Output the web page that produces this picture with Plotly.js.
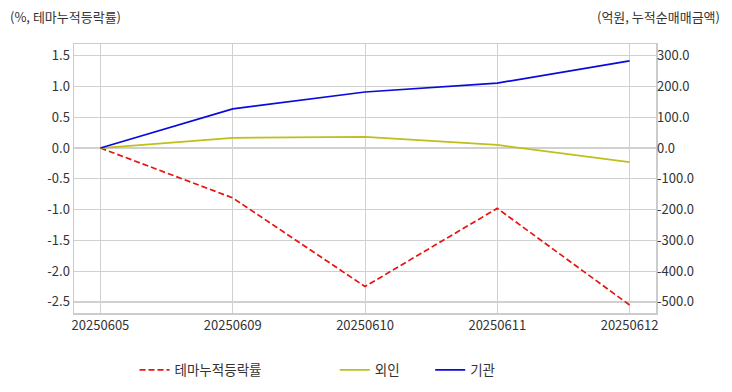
<!DOCTYPE html>
<html>
<head>
<meta charset="utf-8">
<script src="https://cdn.plot.ly/plotly-3.0.1.min.js"></script>
<style>body{margin:0;padding:0;background:#fff;} #chart{width:732px;height:392px;}</style>
</head>
<body>
<div id="chart"></div>
<script>
const dates = ["20250605", "20250609", "20250610", "20250611", "20250612"];
const themeReturn = [0.0, -0.81, -2.25, -0.98, -2.55];
const foreign = [0.0, 33, 36, 10, -46];
const institution = [0.0, 127, 182, 211, 283];

const leftTickVals = [1.5, 1.0, 0.5, 0.0, -0.5, -1.0, -1.5, -2.0, -2.5];
const leftTickText = ["1.5", "1.0", "0.5", "0.0", "-0.5", "-1.0", "-1.5", "-2.0", "-2.5"];
const rightTickVals = [300, 200, 100, 0, -100, -200, -300, -400, -500];
const rightTickText = ["300.0", "200.0", "100.0", "0.0", "-100.0", "-200.0", "-300.0", "-400.0", "-500.0"];

const font = "'Noto Sans CJK KR', 'Noto Sans', sans-serif";
const legendBase = {orientation: "h", y: -0.212, yanchor: "middle", xanchor: "left",
                    font: {size: 13.5, color: "#333"}, bgcolor: "rgba(0,0,0,0)"};

const traces = [
  {x: dates, y: themeReturn, name: "테마누적등락률", type: "scatter", mode: "lines",
   line: {color: "#e8140f", width: 1.7, dash: "6px,3px"}, yaxis: "y", legend: "legend"},
  {x: dates, y: foreign, name: "외인", type: "scatter", mode: "lines",
   line: {color: "#bfbf1a", width: 1.7}, yaxis: "y2", legend: "legend2"},
  {x: dates, y: institution, name: "기관", type: "scatter", mode: "lines",
   line: {color: "#0a0adc", width: 1.7}, yaxis: "y2", legend: "legend3"}
];

const layout = {
  width: 732, height: 392,
  margin: {l: 74, r: 76, t: 44, b: 79, autoexpand: false},
  paper_bgcolor: "#fff", plot_bgcolor: "#fff",
  font: {family: font, size: 13, color: "#333"},
  showlegend: true,
  legend: Object.assign({}, legendBase, {x: 0.104}),
  legend2: Object.assign({}, legendBase, {x: 0.448}),
  legend3: Object.assign({}, legendBase, {x: 0.612}),
  xaxis: {type: "category", range: [-0.2, 4.2], showgrid: true, gridcolor: "#d0d0d0", gridwidth: 1,
          showline: true, linecolor: "#cccccc", linewidth: 1.5, mirror: true,
          ticks: "", tickfont: {size: 13, color: "#333"}, zeroline: false},
  yaxis: {range: [-2.68, 1.69], tickvals: leftTickVals, ticktext: leftTickText,
          showgrid: true, gridcolor: "#d0d0d0", gridwidth: 1.2, zeroline: false,
          showline: true, linecolor: "#cccccc", linewidth: 1.5, mirror: true,
          ticks: "", tickfont: {size: 13, color: "#333"}},
  yaxis2: {range: [-536, 338], tickvals: rightTickVals, ticktext: rightTickText,
           overlaying: "y", side: "right", showgrid: true, gridcolor: "#d0d0d0", gridwidth: 1.2,
           zeroline: false, showline: false, ticks: "", tickfont: {size: 13, color: "#333"}},
  annotations: [
    {text: "(%, 테마누적등락률)", xref: "paper", yref: "paper", x: -0.113, y: 1.0, yshift: 28,
     xanchor: "left", yanchor: "middle", showarrow: false, font: {size: 13, color: "#333"}},
    {text: "(억원, 누적순매매금액)", xref: "paper", yref: "paper", x: 1.114, y: 1.0, yshift: 28,
     xanchor: "right", yanchor: "middle", showarrow: false, font: {size: 13, color: "#333"}}
  ]
};

Plotly.newPlot("chart", traces, layout, {displayModeBar: false, staticPlot: true});
</script>
</body>
</html>
